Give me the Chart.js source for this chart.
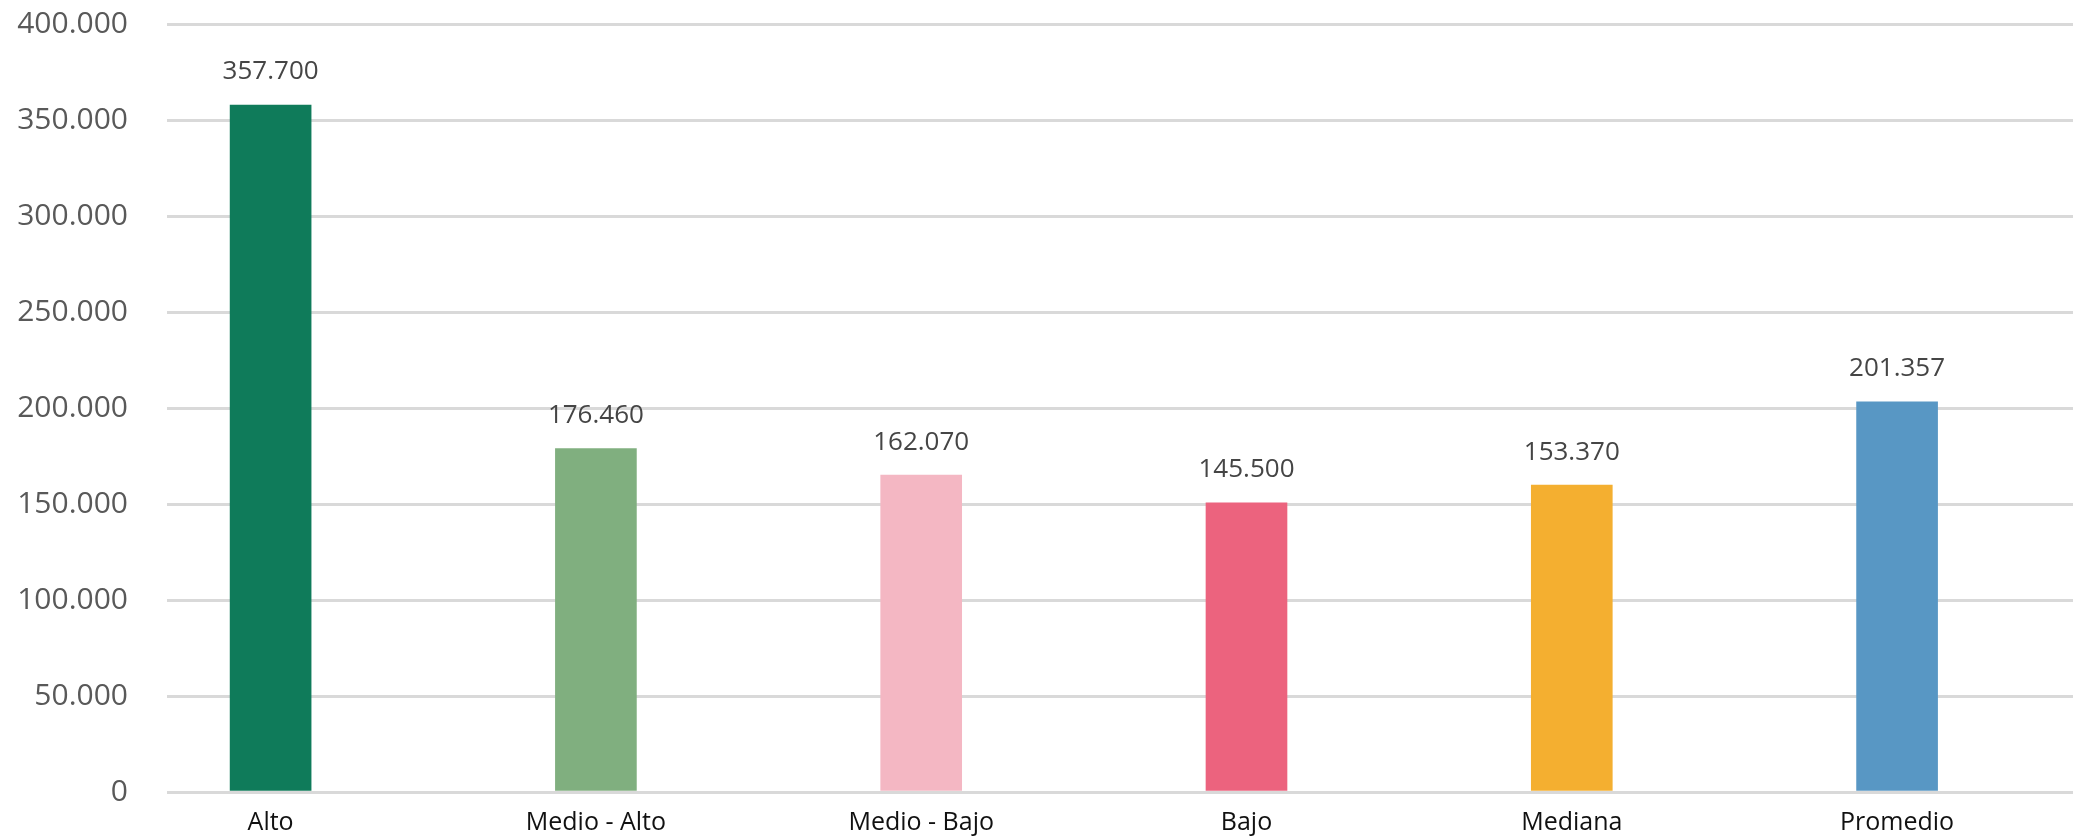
<!DOCTYPE html>
<html>
<head>
<meta charset="utf-8">
<script src="https://cdn.jsdelivr.net/npm/chart.js@4"></script>
<style>
  body { margin: 0; background: #fff; }
  #wrap { width: 2073px; height: 838px; }
</style>
</head>
<body>
<div id="wrap"><canvas id="grafico" width="2073" height="838"></canvas></div>
<script>
// datos
const categorias = ['Alto', 'Medio - Alto', 'Medio - Bajo', 'Bajo', 'Mediana', 'Promedio'];
const valores = [357800, 178900, 165000, 150600, 159800, 203200];
const etiquetas = ['357.700', '176.460', '162.070', '145.500', '153.370', '201.357'];
const colores = ['#0f7b5a', '#80af7f', '#f4b7c3', '#ec637e', '#f4af30', '#5897c4'];
const ticksY = [0, 50000, 100000, 150000, 200000, 250000, 300000, 350000, 400000];

const miles = v => String(v).replace(/\B(?=(\d{3})+(?!\d))/g, '.');

// etiquetas encima de cada barra
const etiquetasBarras = {
  id: 'etiquetasBarras',
  afterDatasetsDraw(chart) {
    const ctx = chart.ctx;
    const meta = chart.getDatasetMeta(0);
    ctx.save();
    ctx.font = '26px "Open Sans"';
    ctx.fillStyle = '#454545';
    ctx.textAlign = 'center';
    ctx.textBaseline = 'middle';
    meta.data.forEach((bar, i) => {
      ctx.fillText(etiquetas[i], bar.x, bar.y - 33);
    });
    ctx.restore();
  }
};

new Chart(document.getElementById('grafico'), {
  type: 'bar',
  data: {
    datasets: [{
      data: valores.map((v, i) => ({ x: i, y: v })),
      backgroundColor: colores,
      borderWidth: 0,
      barThickness: 81
    }]
  },
  options: {
    responsive: false,
    animation: false,
    devicePixelRatio: 1,
    layout: { padding: { top: 24, left: 0, right: 0, bottom: 0 } },
    plugins: { legend: { display: false }, tooltip: { enabled: false } },
    scales: {
      x: {
        type: 'linear',
        offset: false,
        min: -0.3185,
        max: 5.5408,
        grid: { display: false, offset: false, drawTicks: false },
        border: { display: false },
        afterFit(scale) { scale.height = 46; },
        afterBuildTicks(scale) {
          scale.ticks = categorias.map((c, i) => ({ value: i }));
        },
        ticks: {
          padding: 16,
          font: { family: 'Open Sans', size: 25 },
          color: '#111111',
          maxRotation: 0,
          callback: v => categorias[v]
        }
      },
      y: {
        min: 0,
        max: 400000,
        afterFit(scale) { scale.width = 167; },
        afterBuildTicks(scale) {
          scale.ticks = ticksY.map(v => ({ value: v }));
        },
        grid: { color: '#d9d9d9', lineWidth: 3, drawTicks: true, tickLength: 39, tickColor: 'rgba(0,0,0,0)' },
        border: { display: false },
        ticks: {
          padding: 0,
          font: { family: 'Open Sans', size: 30 },
          color: '#595959',
          callback: v => miles(v)
        }
      }
    }
  },
  plugins: [etiquetasBarras]
});
</script>
</body>
</html>
